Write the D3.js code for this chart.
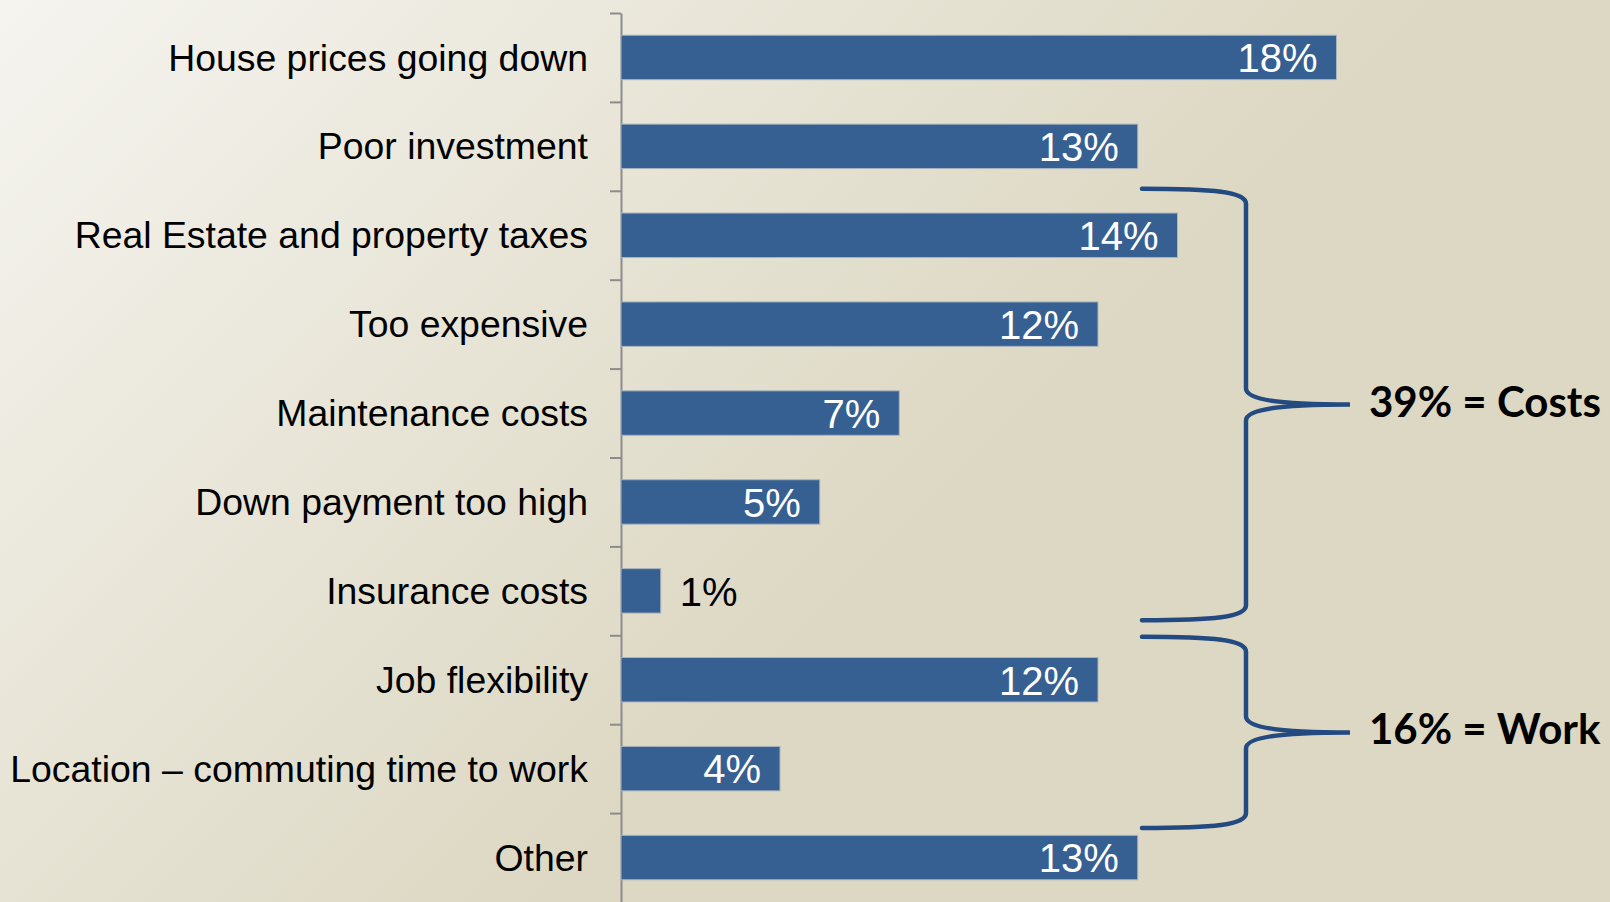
<!DOCTYPE html>
<html>
<head>
<meta charset="utf-8">
<script src="https://cdn.jsdelivr.net/npm/d3@7"></script>
<style>
  html, body { margin: 0; padding: 0; overflow: hidden; }
  svg { display: block; }
</style>
</head>
<body>
<div id="chart"></div>
<script>
// reasons for not buying a house (share of answers, %)
const categories = [
  "House prices going down",
  "Poor investment",
  "Real Estate and property taxes",
  "Too expensive",
  "Maintenance costs",
  "Down payment too high",
  "Insurance costs",
  "Job flexibility",
  "Location \u2013 commuting time to work",
  "Other",
];
const values = [18, 13, 14, 12, 7, 5, 1, 12, 4, 13];

// groups marked with a brace on the right
const groupLabels = ["39% = Costs", "16% = Work"];
const groupMembers = [
  ["Real Estate and property taxes", "Too expensive", "Maintenance costs", "Down payment too high", "Insurance costs"],
  ["Job flexibility", "Location \u2013 commuting time to work"],
];

const width = 1610;
const height = 902;
const axisX = 621;

const svg = d3
  .select("#chart")
  .append("svg")
  .attr("width", width)
  .attr("height", height);

// fond dégradé beige
const defs = svg.append("defs");
const grad = defs
  .append("linearGradient")
  .attr("id", "bg")
  .attr("gradientUnits", "userSpaceOnUse")
  .attr("x1", 0)
  .attr("y1", 0)
  .attr("x2", 720)
  .attr("y2", 720);
grad.append("stop").attr("offset", 0).attr("stop-color", "#f5f4ef");
grad.append("stop").attr("offset", 1).attr("stop-color", "#ddd8c3");

svg
  .append("rect")
  .attr("width", width)
  .attr("height", height)
  .attr("fill", "url(#bg)");

// échelles
const x = d3.scaleLinear().domain([0, 20]).range([axisX, axisX + 795]);

const y = d3
  .scaleBand()
  .domain(categories)
  .range([13, 902])
  .paddingInner(0.5)
  .paddingOuter(0.25);

// position of band boundaries (for the ticks)
const yIdx = d3
  .scaleLinear()
  .domain([0, categories.length])
  .range([13, 902]);

// axe Y (ticks between the bars)
const yAxis = d3
  .axisLeft(yIdx)
  .tickValues(d3.range(categories.length))
  .tickSize(11)
  .tickSizeOuter(0)
  .tickFormat("");

const axisG = svg
  .append("g")
  .attr("transform", "translate(" + axisX + ",0)")
  .call(yAxis);
axisG.selectAll("path, line").attr("stroke", "#8c8c8c").attr("stroke-width", 2);

// barres
svg
  .selectAll(".bar")
  .data(values)
  .enter()
  .append("rect")
  .attr("class", "bar")
  .attr("x", x(0))
  .attr("y", (d, i) => y(categories[i]))
  .attr("width", (d) => x(d) - x(0))
  .attr("height", y.bandwidth())
  .attr("fill", "#366092")
  .attr("stroke", "#aab4bf")
  .attr("stroke-width", 1);

// catégories
svg
  .selectAll(".cat")
  .data(categories)
  .enter()
  .append("text")
  .attr("class", "cat")
  .attr("x", axisX - 33)
  .attr("y", (d) => y(d) + y.bandwidth() / 2)
  .attr("dy", "0.35em")
  .attr("text-anchor", "end")
  .style("font-family", "'Liberation Sans', Arial, sans-serif")
  .style("font-size", "37.4px")
  .style("fill", "#000")
  .text((d) => d);

// valeurs
svg
  .selectAll(".val")
  .data(values)
  .enter()
  .append("text")
  .attr("class", "val")
  .attr("x", (d) => (d < 3 ? x(d) + 19 : x(d) - 19))
  .attr("y", (d, i) => y(categories[i]) + y.bandwidth() / 2)
  .attr("dy", "0.37em")
  .attr("text-anchor", (d) => (d < 3 ? "start" : "end"))
  .style("font-family", "'Liberation Sans', Arial, sans-serif")
  .style("font-size", "40px")
  .style("fill", (d) => (d < 3 ? "#000" : "#fff"))
  .text((d) => d + "%");

// accolades
const braceLeft = 1142;
const braceMid = 1246;
const braceTip = 1350;
// top / bottom offsets of each brace relative to its bands
const braceOffsets = [
  [-2, -15],
  [1.5, 15],
];

function bracePath(y0, y1) {
  const m = (y0 + y1) / 2;
  return (
    "M" + braceLeft + "," + y0 +
    " C" + (braceLeft + 72) + "," + y0 + " " + braceMid + "," + (y0 + 3) + " " + braceMid + "," + (y0 + 15) +
    " L" + braceMid + "," + (m - 16) +
    " C" + braceMid + "," + (m - 4) + " " + (braceMid + 40) + "," + m + " " + braceTip + "," + m +
    " C" + (braceMid + 40) + "," + m + " " + braceMid + "," + (m + 4) + " " + braceMid + "," + (m + 16) +
    " L" + braceMid + "," + (y1 - 15) +
    " C" + braceMid + "," + (y1 - 3) + " " + (braceLeft + 72) + "," + y1 + " " + braceLeft + "," + y1
  );
}

groupMembers.forEach((members, g) => {
  const first = categories.indexOf(members[0]);
  const last = categories.indexOf(members[members.length - 1]);
  const y0 = yIdx(first) + braceOffsets[g][0];
  const y1 = yIdx(last + 1) + braceOffsets[g][1];
  const m = (y0 + y1) / 2;

  svg
    .append("path")
    .attr("d", bracePath(y0, y1))
    .attr("fill", "none")
    .attr("stroke", "#234b82")
    .attr("stroke-width", 4.5)
    .attr("stroke-linecap", "round");

  svg
    .append("text")
    .attr("x", 1369)
    .attr("y", m + 12)
    .style("font-family", "Lato, 'Open Sans', sans-serif")
    .style("font-weight", "bold")
    .style("font-size", "42px")
    .style("fill", "#000")
    .text(groupLabels[g]);
});
</script>
</body>
</html>
